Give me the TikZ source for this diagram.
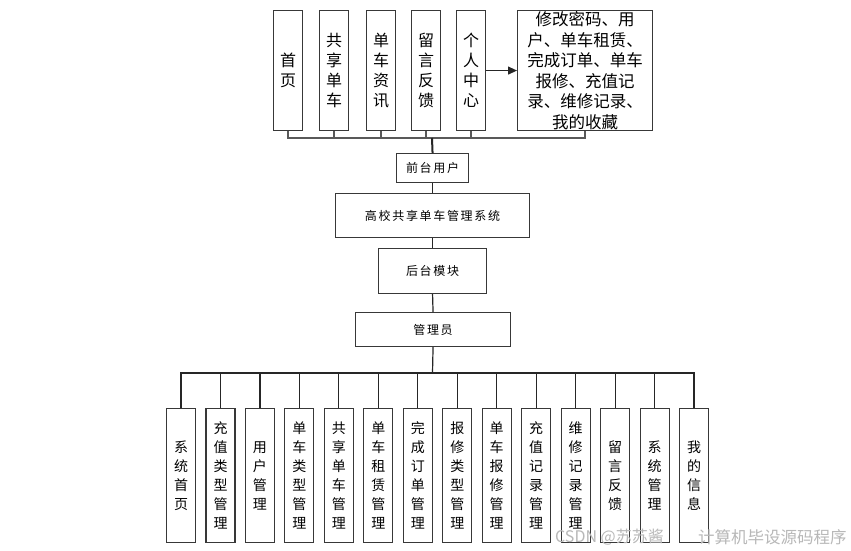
\documentclass[tikz,border=0pt]{standalone}
\usepackage{fontspec}
\newfontfamily\cjk{Noto Sans CJK SC}
\newfontfamily\cjkw[LetterSpace=14]{Noto Sans CJK SC}
\usetikzlibrary{arrows.meta}
\begin{document}
\begin{tikzpicture}[x=1pt,y=-1pt,
  box/.style={draw=black!78, line width=1.1pt, inner sep=0pt, anchor=north west, align=center},
  topbox/.style={box, minimum width=29pt, minimum height=120pt, font=\cjk\fontsize{16}{20}\selectfont},
  botbox/.style={box, minimum width=29pt, minimum height=134pt, font=\cjk\fontsize{14}{19}\selectfont},
  midbox/.style={box, font=\cjkw\fontsize{12}{14}\selectfont},
  conn/.style={draw=black!85, line width=1.2pt},
  wmark/.style={text=black!28, inner sep=0pt, anchor=west}]
\useasboundingbox (0,0) rectangle (851,550);
\fill[white] (0,0) rectangle (851,550);
% top modules
\node[topbox] (t1) at (273,10) {首\\页};
\node[topbox] (t2) at (319,10) {共\\享\\单\\车};
\node[topbox] (t3) at (366,10) {单\\车\\资\\讯};
\node[topbox] (t4) at (411,10) {留\\言\\反\\馈};
\node[topbox] (t5) at (456,10) {个\\人\\中\\心};
\node[box, minimum width=135pt, minimum height=120pt, font=\cjk\fontsize{16.5}{20.5}\selectfont] (t6) at (517,10)
  {修改密码、用\\户、单车租赁、\\完成订单、单车\\报修、充值记\\录、维修记录、\\我的收藏};
\draw[conn, -{Triangle[length=9pt,width=8pt]}] (t5.east) -- (t6.west);
% middle chain
\node[midbox, minimum width=72pt, minimum height=29pt] (fe) at (396,153) {前台用户};
\node[midbox, minimum width=194pt, minimum height=44pt] (sys) at (335,193) {高校共享单车管理系统};
\node[midbox, minimum width=108pt, minimum height=45pt] (bk) at (378,248) {后台模块};
\node[midbox, minimum width=155pt, minimum height=34pt] (adm) at (355,312) {管理员};
\coordinate (busT) at (432,138);
\coordinate (busB) at (432.5,373);
\foreach \n in {t1,t2,t3,t4,t5,t6} \draw[conn, draw=black!65] (\n.south) |- (busT);
\draw[conn, line width=2pt] (busT) -- (fe.north);
\draw[conn] (fe.south) -- (sys.north);
\draw[conn] (sys.south) -- (bk.north);
\draw[conn] (bk.south) -- (adm.north);
\draw[conn] (adm.south) -- (busB);
% bottom modules
\foreach \t [count=\i] in {{系\\统\\首\\页},{充\\值\\类\\型\\管\\理},{用\\户\\管\\理},{单\\车\\类\\型\\管\\理},{共\\享\\单\\车\\管\\理},{单\\车\\租\\赁\\管\\理},{完\\成\\订\\单\\管\\理},{报\\修\\类\\型\\管\\理},{单\\车\\报\\修\\管\\理},{充\\值\\记\\录\\管\\理},{维\\修\\记\\录\\管\\理},{留\\言\\反\\馈},{系\\统\\管\\理},{我\\的\\信\\息}}{
  \node[botbox] (b\i) at ({166+(\i-1)*39.46},408) {\t};
  \draw[conn] (b\i.north) |- (busB);
}
% watermark
\node[wmark, font=\cjk\fontsize{16}{16}\selectfont] (wm1) at (555,537) {CSDN @苏苏酱};
\node[wmark, font=\cjk\fontsize{16.5}{16.5}\selectfont] (wm2) at (698,537) {计算机毕设源码程序};
\end{tikzpicture}
\end{document}
